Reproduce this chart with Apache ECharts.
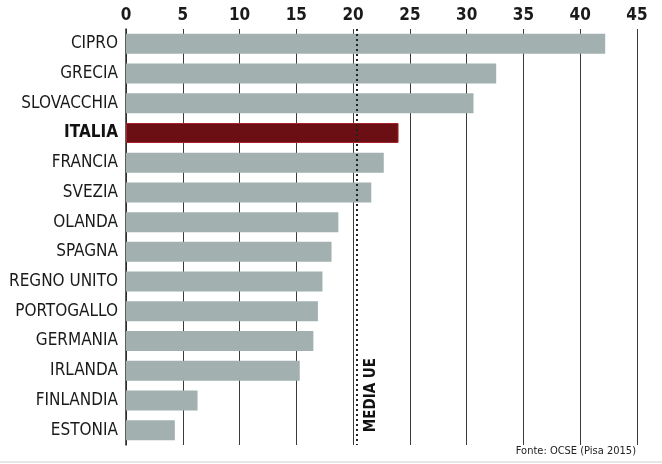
<!DOCTYPE html>
<html>
<head>
<meta charset="utf-8">
<script src="https://cdn.jsdelivr.net/npm/echarts@6/dist/echarts.min.js"></script>
<style>
  html, body { margin: 0; padding: 0; background: #fff; }
  #chart { width: 662px; height: 464px; }
</style>
</head>
<body>
<div id="chart"></div>
<script>
// paesi, dall'alto in basso
const countries = ['CIPRO', 'GRECIA', 'SLOVACCHIA', 'ITALIA', 'FRANCIA', 'SVEZIA', 'OLANDA',
  'SPAGNA', 'REGNO UNITO', 'PORTOGALLO', 'GERMANIA', 'IRLANDA', 'FINLANDIA', 'ESTONIA']
const values = [42.2, 32.6, 30.6, 24.0, 22.7, 21.6, 18.7, 18.1, 17.3, 16.9, 16.5, 15.3, 6.3, 4.3]
const highlight = 'ITALIA'
const mediaUE = 20.3
const xTicks = [0, 5, 10, 15, 20, 25, 30, 35, 40, 45]

const font = '"Liberation Sans Narrow", "DejaVu Sans Condensed", "Liberation Sans", sans-serif'
const chart = echarts.init(document.getElementById('chart'))

const barData = countries.map((name, i) => {
  if (name === highlight) {
    return {
      value: values[i],
      itemStyle: { color: '#6c0f14', borderColor: '#a8232a', borderWidth: 1 }
    }
  }
  return values[i]
})

chart.setOption({
  backgroundColor: '#fff',
  animation: false,
  title: {
    text: 'Fonte: OCSE (Pisa 2015)',
    right: 21,
    bottom: 2,
    textStyle: { fontFamily: font, fontSize: 11, fontWeight: 'normal', color: '#222' }
  },
  grid: { left: 126, right: 25, top: 29, bottom: 19 },
  xAxis: {
    type: 'value',
    position: 'top',
    min: xTicks[0],
    max: xTicks[xTicks.length - 1],
    interval: 5,
    axisLine: { show: false },
    axisTick: { show: false },
    axisLabel: {
      margin: 5,
      fontFamily: font,
      fontSize: 17,
      fontWeight: 'bold',
      color: '#1a1a1a'
    },
    splitLine: { show: true, lineStyle: { color: '#3a3a3a', width: 1 } }
  },
  yAxis: {
    type: 'category',
    inverse: true,
    data: countries,
    axisLine: { show: true, lineStyle: { color: '#2a2a2a', width: 1.5 } },
    axisTick: { show: false },
    axisLabel: {
      margin: 8,
      fontFamily: font,
      fontSize: 17,
      color: '#1a1a1a',
      formatter: (v) => (v === highlight ? '{b|' + v + '}' : v),
      rich: { b: { fontFamily: font, fontSize: 17, fontWeight: 'bold', color: '#111' } }
    }
  },
  series: [
    {
      type: 'bar',
      data: barData,
      barWidth: 20,
      itemStyle: { color: '#a2b0b0' },
      markLine: {
        silent: true,
        symbol: 'none',
        lineStyle: { type: [2, 3], color: '#222', width: 2 },
        label: { show: false },
        data: [{ xAxis: mediaUE }]
      },
      markPoint: {
        silent: true,
        symbol: 'circle',
        symbolSize: 1,
        itemStyle: { color: 'rgba(0,0,0,0)' },
        label: {
          show: true,
          position: 'inside',
          formatter: 'MEDIA UE',
          rotate: 90,
          align: 'left',
          verticalAlign: 'middle',
          offset: [-2, 15],
          fontFamily: font,
          fontSize: 15,
          fontWeight: 'bold',
          color: '#111'
        },
        data: [{ coord: [mediaUE, countries.length - 1] }]
      }
    }
  ],
  graphic: [
    {
      type: 'line',
      shape: { x1: 0, y1: 462, x2: 662, y2: 462 },
      style: { stroke: '#cfcfcf', lineWidth: 1 }
    }
  ]
})
</script>
</body>
</html>
